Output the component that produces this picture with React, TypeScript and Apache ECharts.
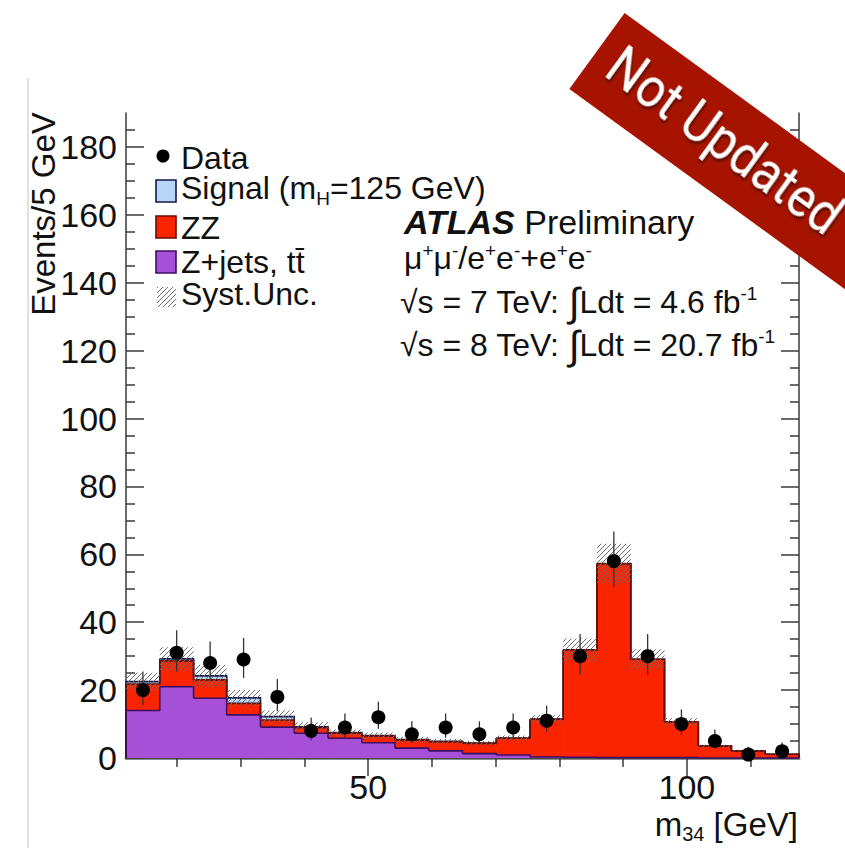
import React, { useEffect, useRef } from 'react';
import * as echarts from 'echarts';

// ---- data ----
const binEdges = [12, 17.3, 22.6, 27.8, 33.1, 38.4, 43.7, 49.0, 54.2, 59.5, 64.8, 70.1, 75.4, 80.6, 85.9, 91.2, 96.5, 101.8, 107.0, 112.3, 117.6];
const zjets = [14.0, 21.0, 17.6, 12.7, 9.1, 7.3, 5.8, 4.5, 2.9, 2.1, 1.3, 0.9, 0.3, 0.2, 0.1, 0.1, 0.1, 0.0, 0.0, 0.0];
const zz = [7.8, 7.6, 5.4, 3.4, 2.1, 1.6, 1.5, 2.0, 2.4, 2.7, 3.0, 4.9, 11.1, 31.6, 57.1, 29.0, 10.6, 3.5, 2.1, 1.1];
const signal = [0.7, 0.6, 1.2, 1.6, 1.0, 0.3, 0.2, 0.1, 0.1, 0.1, 0.1, 0.1, 0.1, 0.1, 0.1, 0.0, 0.0, 0.0, 0.0, 0.0];
const syst = [2.6, 3.4, 3.2, 2.3, 1.8, 1.3, 1.0, 0.9, 0.8, 0.7, 0.6, 0.7, 1.2, 3.3, 5.8, 2.9, 1.1, 0.4, 0.2, 0.1];
const dataCounts = [20, 31, 28, 29, 18, 8, 9, 12, 7, 9, 7, 9, 11, 30, 58, 30, 10, 5, 1, 2];
const dataErrUp = [5.5, 6.6, 6.3, 6.4, 5.3, 3.9, 4.1, 4.6, 3.8, 4.1, 3.8, 4.1, 4.4, 6.5, 8.7, 6.5, 4.3, 3.4, 2.3, 2.6];
const dataErrDown = [4.4, 5.6, 5.3, 5.4, 4.2, 2.8, 3.0, 3.4, 2.6, 3.0, 2.6, 3.0, 3.3, 5.4, 7.6, 5.4, 3.1, 2.2, 0.8, 1.3];

const xMajorTicks = [50, 100];
const xMinorTicks = [20, 30, 40, 60, 70, 80, 90, 110];
const yMajorTicks = [0, 20, 40, 60, 80, 100, 120, 140, 160, 180];
const yMinorTicks = [5, 10, 15, 25, 30, 35, 45, 50, 55, 65, 70, 75, 85, 90, 95, 105, 110, 115, 125, 130, 135, 145, 150, 155, 165, 170, 175, 185];

const X_MIN = 12;
const X_MAX = 117.6;
const Y_MIN = 0;
const Y_MAX = 190;

const FONT = '"Liberation Sans", Arial, Helvetica, sans-serif';
const C_SIGNAL = '#b7d6f6';
const C_ZZ = '#fa2400';
const C_ZJ = '#a550d6';
const L_SIGNAL = '#16164a';
const L_ZZ = '#6a0a00';
const L_ZJ = '#3b0e66';

function makeHatch(color: string, size: number): string {
  const c = document.createElement('canvas');
  c.width = size;
  c.height = size;
  const ctx = c.getContext('2d');
  if (ctx) {
    ctx.strokeStyle = color;
    ctx.lineWidth = 1;
    ctx.beginPath();
    ctx.moveTo(0, size);
    ctx.lineTo(size, 0);
    ctx.moveTo(-2, 2);
    ctx.lineTo(2, -2);
    ctx.moveTo(size - 2, size + 2);
    ctx.lineTo(size + 2, size - 2);
    ctx.stroke();
  }
  return c.toDataURL();
}

export default function App() {
  const ref = useRef<HTMLDivElement>(null);

  useEffect(() => {
    if (!ref.current) return;
    const chart = echarts.init(ref.current, null, { renderer: 'svg' });

    const hatchUrl = makeHatch('#6e6e6e', 5);
    const hatch = { image: hatchUrl, repeat: 'repeat', imageWidth: 5, imageHeight: 5 } as any;

    const n = dataCounts.length;
    const lvZJ = zjets.slice();
    const lvZZ = zjets.map((z, i) => z + zz[i]);
    const lvTot = zjets.map((z, i) => z + zz[i] + signal[i]);
    const centers = dataCounts.map((_, i) => (binEdges[i] + binEdges[i + 1]) / 2);

    const makeFill = (lv: number[], col: string, z: number) => ({
      type: 'custom',
      xAxisIndex: 0,
      yAxisIndex: 0,
      z,
      data: centers.map((c, i) => [c, lv[i]]),
      renderItem: (params: any, api: any) => {
        const i = params.dataIndex;
        const p0 = api.coord([binEdges[i], lv[i]]);
        const p1 = api.coord([binEdges[i + 1], 0]);
        return {
          type: 'rect',
          shape: { x: p0[0], y: p0[1], width: p1[0] - p0[0] + 0.6, height: p1[1] - p0[1] },
          style: { fill: col },
        };
      },
    });

    const outlineSeries = {
      type: 'custom',
      xAxisIndex: 0,
      yAxisIndex: 0,
      z: 3,
      data: centers.map((c, i) => [c, lvTot[i]]),
      renderItem: (params: any, api: any) => {
        const i = params.dataIndex;
        const x0 = binEdges[i];
        const x1 = binEdges[i + 1];
        const defs: [number[], string][] = [
          [lvTot, L_SIGNAL],
          [lvZZ, L_ZZ],
          [lvZJ, L_ZJ],
        ];
        const children = defs.map(([lv, col]) => {
          const next = i + 1 < n ? lv[i + 1] : 0;
          const pts: number[][] = [];
          if (i === 0) pts.push(api.coord([x0, 0]));
          pts.push(api.coord([x0, lv[i]]));
          pts.push(api.coord([x1, lv[i]]));
          pts.push(api.coord([x1, next]));
          return {
            type: 'polyline',
            shape: { points: pts },
            style: { stroke: col, lineWidth: 1.6, fill: 'none' },
          };
        });
        return { type: 'group', children };
      },
    };

    const hatchSeries = {
      type: 'custom',
      xAxisIndex: 0,
      yAxisIndex: 0,
      z: 4,
      data: centers.map((c, i) => [c, lvTot[i]]),
      renderItem: (params: any, api: any) => {
        const i = params.dataIndex;
        const lo = Math.max(0, lvTot[i] - syst[i]);
        const hi = lvTot[i] + syst[i];
        const p0 = api.coord([binEdges[i], hi]);
        const p1 = api.coord([binEdges[i + 1], lo]);
        return {
          type: 'rect',
          shape: { x: p0[0], y: p0[1], width: p1[0] - p0[0], height: p1[1] - p0[1] },
          style: { fill: hatch },
        };
      },
    };

    const dataSeries = {
      type: 'custom',
      xAxisIndex: 0,
      yAxisIndex: 0,
      z: 5,
      data: centers.map((c, i) => [c, dataCounts[i]]),
      renderItem: (params: any, api: any) => {
        const i = params.dataIndex;
        const x = centers[i];
        const pc = api.coord([x, dataCounts[i]]);
        const pt = api.coord([x, dataCounts[i] + dataErrUp[i]]);
        const pb = api.coord([x, Math.max(0, dataCounts[i] - dataErrDown[i])]);
        return {
          type: 'group',
          children: [
            {
              type: 'line',
              shape: { x1: pt[0], y1: pt[1], x2: pb[0], y2: pb[1] },
              style: { stroke: '#333', lineWidth: 1.3 },
            },
            {
              type: 'circle',
              shape: { cx: pc[0], cy: pc[1], r: 7 },
              style: { fill: '#000' },
            },
          ],
        };
      },
    };

    const frameColor = '#3a3a3a';
    const gridRect = { left: 126, top: 113, right: 46, bottom: 90, outerBoundsMode: 'none', containLabel: false };

    const baseX = { type: 'value', min: X_MIN, max: X_MAX, splitLine: { show: false } };
    const baseY = { type: 'value', min: Y_MIN, max: Y_MAX, splitLine: { show: false } };

    const textStyleBase = { fontFamily: FONT, fill: '#111', color: '#111' };
    const tickStyle = { color: frameColor, width: 1.5 };
    const legendText = { ...textStyleBase, fontSize: 32, lineHeight: 30, verticalAlign: 'middle', textVerticalAlign: 'middle' };

    const supRich = (lh: number) => ({
      m: { fontSize: 32, fontFamily: FONT, fill: '#111', color: '#111', lineHeight: lh },
      i: { fontSize: 40, fontFamily: FONT, fill: '#111', color: '#111', lineHeight: lh },
      p: { fontSize: 19, fontFamily: FONT, fill: '#111', color: '#111', lineHeight: 10, verticalAlign: 'top' },
    });

    const option: any = {
      animation: false,
      backgroundColor: '#ffffff',
      grid: [{ ...gridRect }, { ...gridRect }],
      xAxis: [
        {
          ...baseX, gridIndex: 0, position: 'bottom',
          axisLine: { show: true, lineStyle: { color: '#8a8a8a', width: 3 } },
          axisTick: { show: true, inside: true, length: 9, customValues: xMinorTicks, lineStyle: tickStyle },
          axisLabel: { show: true, customValues: xMajorTicks, margin: 12, fontSize: 34, fontFamily: FONT, color: '#111' },
        },
        {
          ...baseX, gridIndex: 0, position: 'top',
          axisLine: { show: true, lineStyle: { color: frameColor, width: 1.5 } },
          axisTick: { show: true, inside: true, length: 9, customValues: xMinorTicks, lineStyle: tickStyle },
          axisLabel: { show: false },
        },
        {
          ...baseX, gridIndex: 1, position: 'bottom',
          axisLine: { show: false },
          axisTick: { show: true, inside: true, length: 18, customValues: xMajorTicks, lineStyle: tickStyle },
          axisLabel: { show: false },
        },
        {
          ...baseX, gridIndex: 1, position: 'top',
          axisLine: { show: false },
          axisTick: { show: true, inside: true, length: 18, customValues: xMajorTicks, lineStyle: tickStyle },
          axisLabel: { show: false },
        },
      ],
      yAxis: [
        {
          ...baseY, gridIndex: 0, position: 'left',
          axisLine: { show: true, lineStyle: { color: frameColor, width: 1.5 } },
          axisTick: { show: true, inside: true, length: 18, customValues: yMajorTicks, lineStyle: tickStyle },
          axisLabel: { show: true, customValues: yMajorTicks, margin: 9, fontSize: 34, fontFamily: FONT, color: '#111' },
        },
        {
          ...baseY, gridIndex: 0, position: 'right',
          axisLine: { show: true, lineStyle: { color: frameColor, width: 1.5 } },
          axisTick: { show: true, inside: true, length: 18, customValues: yMajorTicks, lineStyle: tickStyle },
          axisLabel: { show: false },
        },
        {
          ...baseY, gridIndex: 1, position: 'left',
          axisLine: { show: false },
          axisTick: { show: true, inside: true, length: 9, customValues: yMinorTicks, lineStyle: tickStyle },
          axisLabel: { show: false },
        },
        {
          ...baseY, gridIndex: 1, position: 'right',
          axisLine: { show: false },
          axisTick: { show: true, inside: true, length: 9, customValues: yMinorTicks, lineStyle: tickStyle },
          axisLabel: { show: false },
        },
      ],
      series: [
        makeFill(lvTot, C_SIGNAL, 2),
        makeFill(lvZZ, C_ZZ, 2),
        makeFill(lvZJ, C_ZJ, 2),
        outlineSeries,
        hatchSeries,
        dataSeries,
      ],
      graphic: [
        { type: 'line', shape: { x1: 28, y1: 78, x2: 28, y2: 848 }, style: { stroke: '#e2e2e2', lineWidth: 2 }, z: 1 },
        {
          type: 'text', x: 43, y: 214, rotation: Math.PI / 2, z: 10,
          style: { ...textStyleBase, text: 'Events/5 GeV', fontSize: 33, align: 'center', verticalAlign: 'middle', textAlign: 'center', textVerticalAlign: 'middle' },
        },
        {
          type: 'text', x: 798, y: 824, z: 10,
          style: {
            ...textStyleBase, text: '{m|m}{s|34}{m| [GeV]}', align: 'right', verticalAlign: 'middle', textAlign: 'right', textVerticalAlign: 'middle',
            rich: {
              m: { fontSize: 33, fontFamily: FONT, fill: '#111', color: '#111', lineHeight: 40 },
              s: { fontSize: 20, fontFamily: FONT, fill: '#111', color: '#111', lineHeight: 10, verticalAlign: 'bottom' },
            },
          },
        },
        // legend
        { type: 'circle', shape: { cx: 163, cy: 156, r: 6.5 }, style: { fill: '#000' }, z: 10 },
        { type: 'text', x: 181, y: 158, z: 10, style: { ...legendText, text: 'Data' } },
        { type: 'rect', shape: { x: 156, y: 180, width: 20, height: 22 }, style: { fill: C_SIGNAL, stroke: L_SIGNAL, lineWidth: 1.6 }, z: 10 },
        {
          type: 'text', x: 181, y: 188, z: 10,
          style: {
            ...textStyleBase, text: '{m|Signal (m}{s|H}{m|=125 GeV)}', verticalAlign: 'middle', textVerticalAlign: 'middle',
            rich: {
              m: { fontSize: 32, fontFamily: FONT, fill: '#111', color: '#111', lineHeight: 40 },
              s: { fontSize: 19, fontFamily: FONT, fill: '#111', color: '#111', lineHeight: 8, verticalAlign: 'bottom' },
            },
          },
        },
        { type: 'rect', shape: { x: 156, y: 216, width: 20, height: 22 }, style: { fill: C_ZZ, stroke: L_ZZ, lineWidth: 1.6 }, z: 10 },
        { type: 'text', x: 181, y: 228, z: 10, style: { ...legendText, text: 'ZZ' } },
        { type: 'rect', shape: { x: 156, y: 251, width: 20, height: 22 }, style: { fill: C_ZJ, stroke: L_ZJ, lineWidth: 1.6 }, z: 10 },
        { type: 'text', x: 181, y: 262, z: 10, style: { ...legendText, text: 'Z+jets, tt\u0304' } },
        { type: 'rect', shape: { x: 157, y: 287, width: 19, height: 20 }, style: { fill: hatch }, z: 10 },
        { type: 'text', x: 181, y: 294, z: 10, style: { ...legendText, text: 'Syst.Unc.' } },
        // ATLAS label block
        {
          type: 'text', x: 404, y: 222, z: 10,
          style: {
            ...textStyleBase, text: '{b|ATLAS}{m| Preliminary}', verticalAlign: 'middle', textVerticalAlign: 'middle',
            rich: {
              b: { fontSize: 34, fontFamily: FONT, fontWeight: 'bold', fontStyle: 'italic', fill: '#111', color: '#111', lineHeight: 34 },
              m: { fontSize: 34, fontFamily: FONT, fill: '#111', color: '#111', lineHeight: 34 },
            },
          },
        },
        {
          type: 'text', x: 404, y: 258, z: 10,
          style: {
            ...textStyleBase, text: '{m|μ}{p|+}{m|μ}{p|-}{m|/e}{p|+}{m|e}{p|-}{m|+e}{p|+}{m|e}{p|-}', verticalAlign: 'middle', textVerticalAlign: 'middle',
            rich: supRich(34),
          },
        },
        {
          type: 'text', x: 400, y: 302, z: 10,
          style: {
            ...textStyleBase, text: '{m|√s = 7 TeV: }{i|∫}{m|Ldt = 4.6 fb}{p|-1}', verticalAlign: 'middle', textVerticalAlign: 'middle',
            rich: supRich(36),
          },
        },
        {
          type: 'text', x: 400, y: 345, z: 10,
          style: {
            ...textStyleBase, text: '{m|√s = 8 TeV: }{i|∫}{m|Ldt = 20.7 fb}{p|-1}', verticalAlign: 'middle', textVerticalAlign: 'middle',
            rich: supRich(36),
          },
        },
        // "Not Updated" banner
        {
          type: 'group', x: 597, y: 51, rotation: -36 * Math.PI / 180, z: 100,
          children: [
            { type: 'rect', shape: { x: 0, y: -47, width: 520, height: 94 }, style: { fill: '#a61400' }, z: 100 },
            {
              type: 'text', x: 156, y: -3, scaleX: 0.88, z: 101,
              style: {
                text: 'Not Updated', fontSize: 56, fontFamily: 'Roboto, "Open Sans", sans-serif', fill: '#ffffff', color: '#ffffff',
                align: 'center', verticalAlign: 'middle', textAlign: 'center', textVerticalAlign: 'middle',
                textShadowColor: 'rgba(0,0,0,0.55)', textShadowBlur: 3, textShadowOffsetX: 2, textShadowOffsetY: 2,
              },
            },
          ],
        },
      ],
    };

    chart.setOption(option);
    return () => {
      chart.dispose();
    };
  }, []);

  return (
    <div
      ref={ref}
      style={{ position: 'fixed', left: 0, top: 0, width: 845, height: 848, background: '#fff' }}
    />
  );
}
